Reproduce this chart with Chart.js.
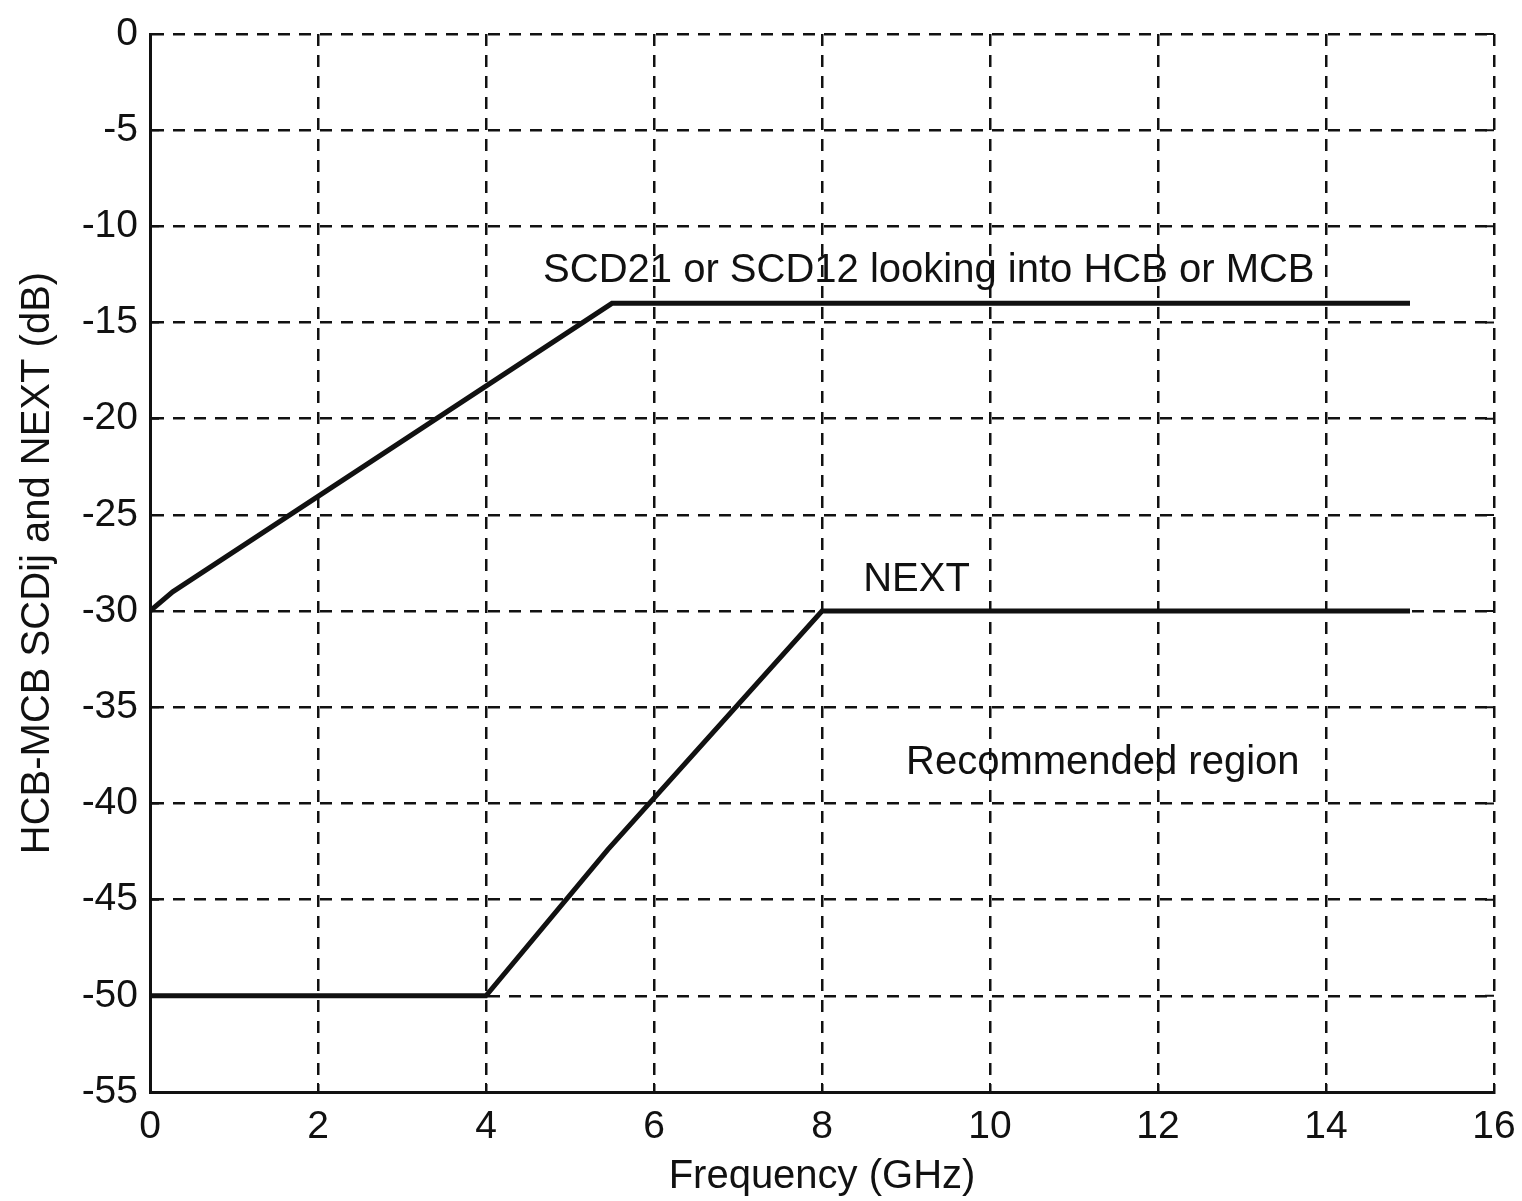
<!DOCTYPE html>
<html>
<head>
<meta charset="utf-8">
<script src="https://cdn.jsdelivr.net/npm/chart.js@4/dist/chart.umd.min.js"></script>
<style>
  html, body { margin: 0; padding: 0; background: #fff; }
  #wrap { width: 1522px; height: 1201px; }
</style>
</head>
<body>
<div id="wrap"><canvas id="c"></canvas></div>
<script>
// ── Données ────────────────────────────────────────────────────────────────
const scdFreq  = [0, 0.27, 5.5, 15];
const scdLevel = [-30, -29, -14, -14];

const nextFreq  = [0, 4, 5.45, 8, 15];
const nextLevel = [-50, -50, -42.4, -30, -30];

const xTicks = [0, 2, 4, 6, 8, 10, 12, 14, 16];
const yTicks = [0, -5, -10, -15, -20, -25, -30, -35, -40, -45, -50, -55];

const notes = [
  { text: 'SCD21 or SCD12 looking into HCB or MCB', x: 4.68, y: -12.3 },
  { text: 'NEXT',                                   x: 8.49, y: -28.4 },
  { text: 'Recommended region',                     x: 9.0,  y: -37.9 },
];

const FONT = "'Liberation Sans', Arial, sans-serif";
const INK  = '#111';

const toPts = (xs, ys) => xs.map((x, i) => ({ x, y: ys[i] }));

// ── Annotations + petites graduations internes ─────────────────────────────
const extras = {
  id: 'extras',
  afterDatasetsDraw(chart) {
    const { ctx, chartArea: a, scales: { x, y } } = chart;
    ctx.save();
    ctx.strokeStyle = INK;
    ctx.lineWidth = 2;
    const t = 9;
    for (const v of xTicks) {
      const px = x.getPixelForValue(v);
      ctx.beginPath();
      ctx.moveTo(px, a.bottom); ctx.lineTo(px, a.bottom - t);
      ctx.moveTo(px, a.top);    ctx.lineTo(px, a.top + t);
      ctx.stroke();
    }
    for (const v of yTicks) {
      const py = y.getPixelForValue(v);
      ctx.beginPath();
      ctx.moveTo(a.left, py);  ctx.lineTo(a.left + t, py);
      ctx.moveTo(a.right, py); ctx.lineTo(a.right - t, py);
      ctx.stroke();
    }
    ctx.fillStyle = INK;
    ctx.font = `40px ${FONT}`;
    ctx.textAlign = 'left';
    ctx.textBaseline = 'middle';
    for (const n of notes) {
      ctx.fillText(n.text, x.getPixelForValue(n.x), y.getPixelForValue(n.y));
    }
    ctx.restore();
  },
};

const lineDs = (label, data) => ({
  label,
  data,
  showLine: true,
  borderColor: INK,
  backgroundColor: INK,
  borderWidth: 5,
  pointRadius: 0,
  tension: 0,
});

new Chart(document.getElementById('c'), {
  type: 'scatter',
  data: {
    datasets: [
      lineDs('SCD', toPts(scdFreq, scdLevel)),
      lineDs('NEXT', toPts(nextFreq, nextLevel)),
    ],
  },
  options: {
    responsive: true,
    maintainAspectRatio: false,
    animation: false,
    layout: { padding: { top: 34, right: 28, left: 0, bottom: 0 } },
    plugins: {
      legend: { display: false },
      tooltip: { enabled: false },
    },
    scales: {
      x: {
        type: 'linear',
        min: 0, max: 16,
        afterBuildTicks: s => { s.ticks = xTicks.map(v => ({ value: v })); },
        afterFit: s => { s.height = 109; s.paddingLeft = 0; s.paddingRight = 0; },
        ticks: { color: INK, font: { family: FONT, size: 39 }, padding: 12, maxRotation: 0 },
        grid: { color: INK, lineWidth: 2.5, drawTicks: false },
        border: { display: true, color: INK, width: 3, dash: [12, 9] },
        title: {
          display: true,
          text: 'Frequency (GHz)',
          color: INK,
          font: { family: FONT, size: 40 },
          padding: { top: 0, bottom: 0 },
        },
      },
      y: {
        type: 'linear',
        min: -55, max: 0,
        afterBuildTicks: s => { s.ticks = yTicks.map(v => ({ value: v })); },
        afterFit: s => { s.width = 150; s.paddingTop = 0; s.paddingBottom = 0; },
        ticks: { color: INK, font: { family: FONT, size: 39 }, padding: 12 },
        grid: { color: INK, lineWidth: 2.5, drawTicks: false },
        border: { display: true, color: INK, width: 3, dash: [12, 9] },
        title: {
          display: true,
          text: 'HCB-MCB SCDij and NEXT (dB)',
          color: INK,
          font: { family: FONT, size: 40 },
          padding: { top: 14, bottom: 0 },
        },
      },
    },
  },
  plugins: [extras],
});
</script>
</body>
</html>
